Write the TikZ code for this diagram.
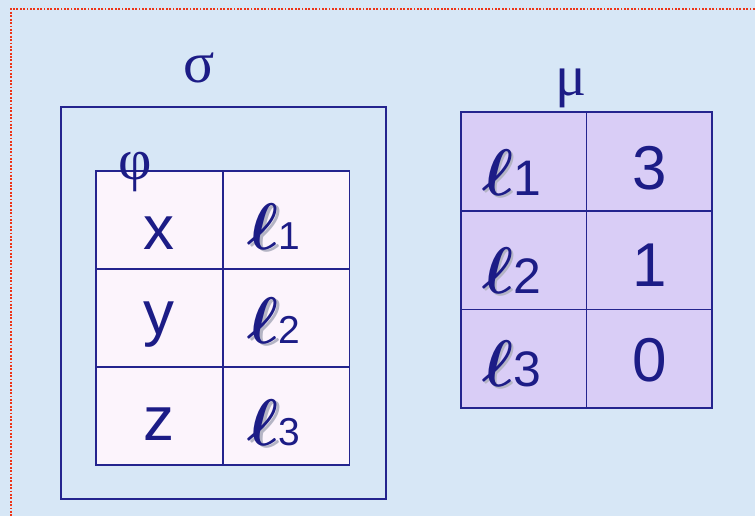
\RequirePackage{fix-cm}
\documentclass[tikz,border=0pt]{standalone}
\usepackage{fontspec}
\usepackage{xcolor}
\usepackage{tikz}
\usetikzlibrary{positioning}
\newfontfamily\sansfont{Liberation Sans}
\newfontfamily\seriffont{Liberation Serif}
\definecolor{bgblue}{HTML}{D7E7F6}
\definecolor{ink}{HTML}{1C1C86}
\definecolor{edge}{HTML}{24248E}
\definecolor{pinkcell}{HTML}{FCF4FC}
\definecolor{lavcell}{HTML}{D9CDF6}
\definecolor{dotred}{HTML}{EE3418}
\definecolor{locshade}{HTML}{B4B4C4}
% location symbol: script l with a soft shadow, index set smaller
\newcommand{\loc}[2][39]{%
  \fontsize{66}{66}\selectfont
  \rlap{\kern2.5pt\raisebox{-2pt}{\color{locshade}\boldmath$\ell$}}{\boldmath$\ell$}%
  {\sansfont\fontsize{#1}{#1}\selectfont #2}\kern24pt}

\begin{document}
\begin{tikzpicture}[x=1pt, y=-1pt,
  cell/.style={draw=edge, line width=1.8pt, outer sep=0pt, inner sep=0pt, text=ink,
    font=\sansfont\fontsize{62}{62}\selectfont, text depth=0pt},
  varcell/.style={cell, fill=pinkcell, minimum width=127pt, minimum height=98.3pt},
  loccell/.style={cell, fill=lavcell, minimum width=125.5pt, minimum height=99pt},
  frame/.style={draw=edge, line width=1.8pt, outer sep=0pt, inner sep=0pt},
  greek/.style={text=ink, font=\seriffont\fontsize{58}{58}\selectfont, inner sep=0pt},
]
  % Background and page border
  \fill[bgblue] (0,0) rectangle (756,517);
  \draw[dotred, line width=2.4pt, dash pattern=on 1.8pt off 1.6pt] (756,9) -- (11,9) -- (11,517);
  \useasboundingbox (0,0) rectangle (756,517);

  % Store sigma
  \node[frame, minimum width=326pt, minimum height=393pt, anchor=north west] (sigma) at (61,107) {};
  \node[greek, anchor=base] (sigmalbl) at (199,83) {σ};

  % Environment phi
  \node[varcell, anchor=north west, text height=60pt] (vx) at (96,171) {x};
  \node[varcell, right=0pt of vx, text height=60pt] (lx) {\loc{1}};
  \node[varcell, below=0pt of vx, text height=33pt] (vy) {y};
  \node[varcell, right=0pt of vy, text height=51pt] (ly) {\loc{2}};
  \node[varcell, below=0pt of vy, text height=48pt] (vz) {z};
  \node[varcell, right=0pt of vz, text height=58pt] (lz) {\loc{3}};
  \node[greek, anchor=base] (philbl) at (135,180) {φ};

  % Memory mu
  \node[loccell, anchor=north west, text height=69pt] (m1) at (462,112) {\loc[50]{1}};
  \node[loccell, right=0pt of m1, text height=57pt] (n1) {3};
  \node[loccell, below=0pt of m1, text height=67pt] (m2) {\loc[50]{2}};
  \node[loccell, right=0pt of m2, text height=53pt] (n2) {1};
  \node[loccell, below=0pt of m2, text height=56pt] (m3) {\loc[50]{3}};
  \node[loccell, right=0pt of m3, text height=46pt] (n3) {0};
  \node[greek, anchor=base] (mulbl) at (572,96) {μ};

\end{tikzpicture}
\end{document}
